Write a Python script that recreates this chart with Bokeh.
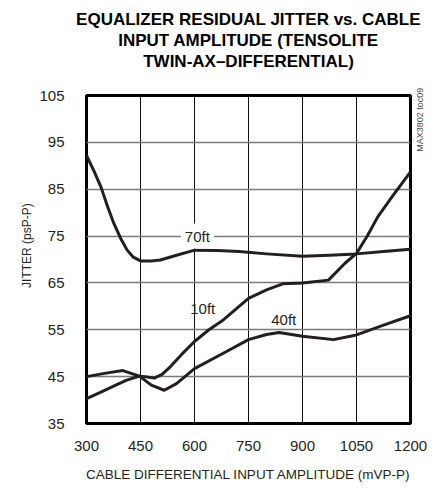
import math
from bokeh.plotting import figure
from bokeh.models import Label, FixedTicker, Range1d, Title, LinearAxis
from bokeh.embed import file_html
from bokeh.resources import INLINE

# ---- data ----
x_70ft = [300, 320, 340, 360, 376, 395, 413, 430, 450, 480, 505, 550, 601, 664, 724, 800, 900, 975, 1050, 1125, 1200]
y_70ft = [92.2, 89.0, 85.5, 81.0, 77.7, 74.5, 72.0, 70.5, 69.7, 69.7, 69.9, 70.9, 72.0, 71.9, 71.7, 71.2, 70.7, 70.9, 71.2, 71.7, 72.2]

x_10ft = [300, 340, 374, 410, 447, 470, 488, 510, 534, 565, 600, 640, 680, 724, 750, 800, 845, 900, 972, 1018, 1050, 1080, 1109, 1150, 1200]
y_10ft = [40.3, 41.7, 42.9, 44.2, 45.1, 44.9, 44.7, 45.5, 47.2, 49.8, 52.5, 55.0, 57.1, 60.0, 61.7, 63.5, 64.8, 65.0, 65.6, 69.2, 71.3, 75.0, 79.1, 83.5, 88.7]

x_40ft = [300, 350, 401, 447, 480, 516, 550, 600, 680, 750, 800, 835, 900, 986, 1050, 1125, 1200]
y_40ft = [45.0, 45.7, 46.3, 45.1, 43.2, 42.1, 43.5, 46.7, 50.0, 52.9, 54.0, 54.4, 53.6, 52.9, 53.9, 56.0, 58.0]

x_ticks = [300, 450, 600, 750, 900, 1050, 1200]
y_ticks = [35, 45, 55, 65, 75, 85, 95, 105]

title_lines = ["EQUALIZER RESIDUAL JITTER vs. CABLE",
               "INPUT AMPLITUDE (TENSOLITE",
               "TWIN-AX\u2013DIFFERENTIAL)"]
x_title = "CABLE DIFFERENTIAL INPUT AMPLITUDE (mVP-P)"
y_title = "JITTER (psP-P)"
side_code = "MAX3802 toc09"
curve_labels = ["70ft", "10ft", "40ft"]

FONT = "Liberation Sans"
INK = "#231f20"

p = figure(width=433, height=484, output_backend="svg", toolbar_location=None,
           x_range=Range1d(300, 1200), y_range=Range1d(35, 105),
           min_border_left=86, min_border_right=20, min_border_top=95, min_border_bottom=60)
p.background_fill_color = "white"
p.border_fill_color = "white"
p.outline_line_color = "black"
p.outline_line_width = 3
p.outline_line_alpha = 1

# main axes (configured explicitly before any extra axis is added)
xa = p.below[0]
ya = p.left[0]
xa.ticker = FixedTicker(ticks=x_ticks)
ya.ticker = FixedTicker(ticks=y_ticks)
for ax in (xa, ya):
    ax.axis_line_color = None
    ax.major_tick_line_color = None
    ax.minor_tick_line_color = None
    ax.major_label_text_font = FONT
    ax.major_label_text_font_size = "15px"
    ax.major_label_text_color = INK
xa.major_label_standoff = 11
ya.major_label_standoff = 16
xa.axis_label = x_title
xa.axis_label_text_font = FONT
xa.axis_label_text_font_size = "13.5px"
xa.axis_label_text_font_style = "normal"
xa.axis_label_text_color = INK
xa.axis_label_standoff = 13

# grids
p.xgrid.ticker = FixedTicker(ticks=x_ticks)
p.ygrid.ticker = FixedTicker(ticks=y_ticks)
p.xgrid.grid_line_color = "#111111"
p.xgrid.grid_line_width = 1
p.ygrid.grid_line_color = "#7a7a7a"
p.ygrid.grid_line_width = 1.5

# invisible spacer between frame and title block (one hidden tick, empty label)
spacer = LinearAxis(ticker=FixedTicker(ticks=[750]), major_label_overrides={750: ""},
                    axis_line_color=None, major_tick_line_color=None, minor_tick_line_color=None,
                    major_tick_out=25, major_tick_in=0, minor_tick_out=0, minor_tick_in=0,
                    major_label_standoff=0, major_label_text_font_size="1px")
p.add_layout(spacer, "above")

# title (three lines): p.title is outermost, added titles stack from the frame outward
p.title.text = title_lines[0]
p.title.align = "center"
p.title.text_font = FONT
p.title.text_font_size = "17px"
p.title.text_font_style = "bold"
p.title.text_color = "black"
p.title.standoff = 0
for line in (title_lines[2], title_lines[1]):
    p.add_layout(Title(text=line, align="center", text_font=FONT, text_font_size="17px",
                       text_font_style="bold", text_color="black", standoff=0), "above")

def text_axis(side, tick, text, size, standoff, color):
    ax = LinearAxis(ticker=FixedTicker(ticks=[tick]), major_label_overrides={tick: text},
                    major_label_orientation=math.pi / 2, major_label_standoff=standoff,
                    major_label_text_font=FONT, major_label_text_font_size=size,
                    major_label_text_color=color, axis_line_color=None,
                    major_tick_line_color=None, minor_tick_line_color=None,
                    major_tick_out=0, minor_tick_out=0)
    p.add_layout(ax, side)

# y axis title (placed beside the y tick labels) and side code
text_axis("left", 82, y_title, "12px", 9, INK)
text_axis("right", 93, side_code, "9px", 10, "#444444")

# curves
for xs, ys in ((x_70ft, y_70ft), (x_10ft, y_10ft), (x_40ft, y_40ft)):
    p.line(xs, ys, line_color=INK, line_width=3, line_join="round", line_cap="round")

# curve labels
p.add_layout(Label(x=608, y=75, text=curve_labels[0], text_font=FONT, text_font_size="15px",
                   text_color=INK, text_align="center", text_baseline="middle",
                   background_fill_color="white", padding=4))
p.add_layout(Label(x=623, y=59.6, text=curve_labels[1], text_font=FONT, text_font_size="15px",
                   text_color=INK, text_align="center", text_baseline="middle"))
p.add_layout(Label(x=848, y=57.1, text=curve_labels[2], text_font=FONT, text_font_size="15px",
                   text_color=INK, text_align="center", text_baseline="middle"))

open("out.html", "w").write(file_html(p, INLINE))
